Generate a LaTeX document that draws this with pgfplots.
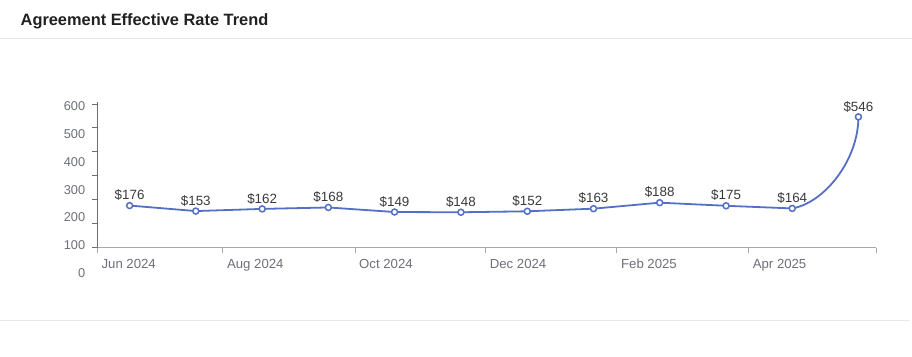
\documentclass[border=0pt]{standalone}
\usepackage{pgfplots}
\pgfplotsset{compat=1.18}
\usepackage{pgfplotstable}
\usepackage{fontspec}
\setmainfont{Liberation Sans}
\definecolor{lineblue}{HTML}{5470C6}
\definecolor{ticktxt}{HTML}{6E7079}
\definecolor{lbltxt}{HTML}{3A3A3A}
\definecolor{sepline}{HTML}{E8E8E8}
\definecolor{xaxis}{HTML}{A8A8A8}

% day = days since 1 Jun 2024, value = effective rate ($)
\pgfplotstableread{
day value
17.6 176
48.4 153
79.3 162
110.1 168
140.9 149
171.8 148
202.7 152
233.5 163
264.3 188
295.2 175
326.0 164
356.8 546
}\ratedata

\begin{document}
\begin{tikzpicture}
\fill[white] (0pt,0pt) rectangle (912pt,357pt);
\node[anchor=base west, inner sep=0pt, font=\fontsize{16.4}{19}\selectfont\bfseries, text=black!87] at (20pt,331pt) {Agreement Effective Rate Trend};
\draw[sepline, line width=1pt] (0pt,318pt) -- (912pt,318pt);
\draw[sepline, line width=1pt] (0pt,35.7pt) -- (910pt,35.7pt);

\pgfplotstablegetelem{10}{day}\of\ratedata \let\xa\pgfplotsretval
\pgfplotstablegetelem{10}{value}\of\ratedata \let\ya\pgfplotsretval
\pgfplotstablegetelem{11}{day}\of\ratedata \let\xb\pgfplotsretval
\pgfplotstablegetelem{11}{value}\of\ratedata \let\yb\pgfplotsretval
\pgfmathsetmacro{\cax}{\xa+15}
\pgfmathsetmacro{\cay}{\ya+23.5}
\pgfmathsetmacro{\cby}{\yb-180}

% y tick labels (drawn with their own spacing, as in the reference)
\begin{axis}[
  at={(97pt,84pt)}, anchor=south west, scale only axis,
  width=779.5pt, height=166.3pt,
  xmin=0, xmax=1, ymin=0, ymax=600,
  hide x axis,
  axis y line*=left,
  y axis line style={draw=none},
  ytick={0,100,...,600},
  major tick length=0pt,
  /pgf/number format/assume math mode=true,
  yticklabel style={font=\fontsize{12.8}{14}\selectfont, text=ticktxt, anchor=east, inner sep=0pt, xshift=-12pt},
]
\end{axis}

\begin{axis}[
  at={(97pt,109pt)}, anchor=south west, scale only axis,
  width=779.5pt, height=145.4pt,
  xmin=2.6, xmax=365, ymin=0, ymax=606,
  axis x line*=bottom, axis y line*=left,
  x axis line style={-, draw=xaxis, line width=1.4pt},
  y axis line style={-, draw=ticktxt, line width=0.8pt},
  tick align=outside,
  ytick={0,100,...,600},
  yticklabels={},
  ytick style={draw=ticktxt, line width=0.8pt},
  major tick length=5pt,
  xtick={2.6,61,122.5,183.3,244.4,305.7,365},
  xticklabels={Jun 2024,Aug 2024,Oct 2024,Dec 2024,Feb 2025,Apr 2025,},
  xtick style={draw=xaxis, line width=1pt},
  xticklabel style={font=\fontsize{13.2}{15}\selectfont, text=ticktxt, anchor=base west, inner sep=0pt, xshift=4pt, yshift=-16pt},
  clip=false,
]
\addplot[lineblue, line width=1.8pt, no marks, skip coords between index={11}{12}] table[x=day, y=value] {\ratedata};
\draw[lineblue, line width=1.8pt] (axis cs:\xa,\ya) .. controls (axis cs:\cax,\cay) and (axis cs:\xb,\cby) .. (axis cs:\xb,\yb);
\addplot[only marks, mark=*, mark size=3pt, mark options={fill=white, draw=lineblue, line width=1.5pt},
  nodes near coords={\$\pgfmathprintnumber{\pgfplotspointmeta}},
  every node near coord/.append style={anchor=base, inner sep=0pt, yshift=5.8pt, font=\fontsize{13.4}{15}\selectfont, text=lbltxt, /pgf/number format/assume math mode=true},
] table[x=day, y=value] {\ratedata};
\end{axis}
\end{tikzpicture}
\end{document}
